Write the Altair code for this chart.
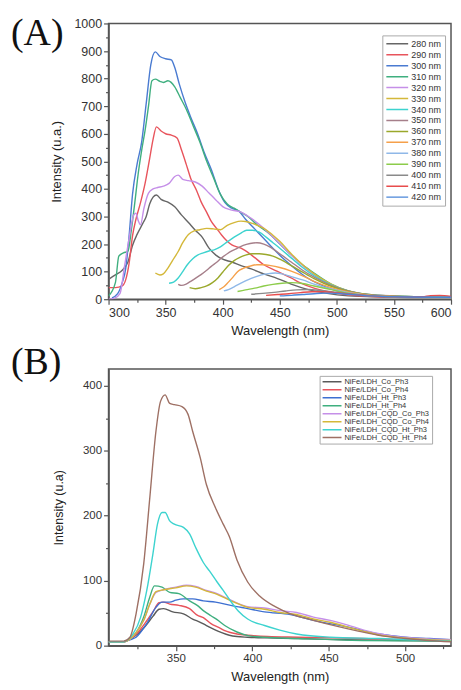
import altair as alt
import pandas as pd

# ---------------- Panel A data ----------------
a_series = ["280 nm", "290 nm", "300 nm", "310 nm", "320 nm", "330 nm", "340 nm", "350 nm",
            "360 nm", "370 nm", "380 nm", "390 nm", "400 nm", "410 nm", "420 nm"]
a_colors = ["#666666", "#E8545C", "#4A7BD1", "#3FAF7F", "#C58FE8", "#D4B83A", "#3DD3CF", "#A67F8A",
            "#9AA82B", "#F5A04A", "#8FB8E8", "#8CCC4A", "#8A8A8A", "#E84C4C", "#4A86D8"]

wl_280 = [300, 306, 312, 317, 321, 325, 330, 333, 336, 339, 342, 346, 352, 358, 364, 370, 376, 382, 388, 394, 400, 408, 416, 425, 436, 448, 460, 475, 490, 510, 540, 570, 600]
in_280 = [72, 88, 105, 135, 195, 235, 275, 300, 345, 370, 378, 362, 352, 335, 305, 278, 250, 225, 185, 160, 145, 135, 122, 110, 92, 75, 55, 35, 22, 12, 8, 6, 5]

wl_290 = [300, 306, 312, 315, 318, 321, 324, 328, 332, 336, 339, 342, 346, 350, 355, 360, 364, 368, 372, 377, 381, 386, 390, 395, 399, 404, 408, 416, 425, 436, 448, 460, 468, 480, 495, 510, 530, 560, 600]
in_290 = [42, 42, 48, 70, 130, 230, 290, 350, 420, 510, 580, 625, 610, 600, 595, 585, 540, 490, 438, 395, 354, 315, 282, 255, 233, 210, 197, 185, 161, 125, 101, 77, 59, 40, 25, 16, 10, 7, 6]

wl_300 = [303, 308, 312, 315, 318, 321, 325, 329, 333, 337, 341, 345, 350, 355, 358, 362, 367, 372, 378, 384, 390, 396, 402, 408, 414, 420, 428, 436, 445, 455, 465, 475, 490, 505, 520, 540, 570, 600]
in_300 = [5, 20, 60, 110, 230, 380, 490, 570, 710, 850, 897, 880, 872, 868, 840, 780, 715, 660, 600, 530, 470, 400, 350, 330, 320, 290, 255, 220, 180, 140, 105, 75, 45, 25, 15, 10, 8, 6]

wl_310 = [300, 306, 309, 313, 317, 320, 323, 326, 329, 332, 335, 338, 341, 345, 348, 352, 358, 363, 368, 374, 380, 386, 392, 398, 404, 410, 416, 422, 430, 440, 450, 460, 470, 480, 495, 510, 530, 560, 600]
in_310 = [12, 60, 156, 168, 174, 252, 350, 456, 540, 612, 700, 792, 798, 790, 786, 792, 770, 730, 690, 630, 570, 500, 440, 380, 345, 330, 315, 300, 270, 240, 200, 160, 125, 95, 55, 30, 15, 10, 8]

wl_320 = [300, 305, 310, 314, 318, 322, 324, 326, 328, 331, 335, 339, 343, 348, 353, 358, 361, 365, 370, 376, 382, 388, 394, 400, 407, 416, 425, 436, 448, 460, 472, 485, 500, 520, 550, 600]
in_320 = [0, 3, 20, 120, 220, 305, 312, 285, 270, 330, 385, 400, 405, 410, 420, 445, 450, 435, 430, 425, 410, 385, 360, 336, 324, 316, 293, 257, 209, 160, 115, 75, 42, 20, 10, 6]

wl_330 = [341, 345, 348, 352, 356, 361, 365, 370, 375, 380, 386, 392, 398, 404, 410, 416, 420, 426, 432, 438, 444, 450, 460, 470, 480, 495, 510, 530, 560, 600]
in_330 = [95, 88, 92, 113, 140, 173, 205, 235, 248, 252, 257, 255, 252, 268, 278, 283, 282, 275, 265, 252, 232, 210, 165, 125, 92, 55, 30, 16, 10, 8]

wl_340 = [353, 357, 361, 365, 369, 374, 378, 383, 388, 393, 398, 404, 410, 416, 421, 426, 432, 438, 444, 450, 460, 470, 480, 495, 510, 530, 560, 600]
in_340 = [58, 62, 77, 100, 125, 148, 160, 168, 175, 180, 190, 208, 225, 240, 250, 250, 243, 225, 205, 185, 150, 115, 85, 52, 30, 16, 10, 8]

wl_350 = [361, 364, 368, 372, 377, 381, 386, 390, 395, 399, 404, 408, 413, 418, 424, 430, 436, 442, 450, 460, 470, 480, 495, 510, 530, 560, 600]
in_350 = [54, 50, 55, 65, 78, 89, 105, 119, 135, 150, 165, 175, 185, 195, 202, 205, 200, 188, 165, 135, 105, 80, 50, 30, 16, 10, 7]

wl_360 = [371, 376, 381, 386, 391, 396, 400, 405, 410, 415, 420, 426, 432, 438, 444, 450, 460, 470, 480, 495, 510, 530, 560, 600]
in_360 = [42, 38, 42, 48, 60, 78, 98, 122, 140, 152, 160, 165, 165, 162, 156, 145, 122, 98, 75, 47, 28, 15, 9, 7]

wl_370 = [397, 401, 405, 409, 413, 418, 424, 430, 436, 442, 450, 460, 470, 480, 495, 510, 530, 560, 600]
in_370 = [35, 45, 62, 80, 100, 112, 120, 125, 125, 122, 115, 102, 85, 65, 42, 26, 14, 9, 7]

wl_380 = [401, 405, 410, 416, 422, 428, 434, 440, 446, 452, 460, 470, 480, 495, 510, 530, 560, 600]
in_380 = [30, 35, 45, 58, 70, 80, 88, 93, 95, 92, 82, 70, 55, 37, 24, 13, 8, 6]

wl_390 = [413, 420, 428, 436, 444, 452, 460, 470, 480, 495, 510, 530, 560, 600]
in_390 = [28, 34, 40, 48, 54, 58, 60, 57, 48, 35, 22, 12, 8, 6]

wl_400 = [425, 435, 445, 455, 465, 475, 485, 495, 510, 530, 560, 600]
in_400 = [18, 21, 25, 30, 34, 35, 32, 27, 20, 12, 8, 6]

wl_410 = [438, 448, 458, 468, 478, 488, 498, 510, 530, 560, 575, 582, 590, 600]
in_410 = [14, 17, 20, 24, 27, 27, 24, 19, 12, 8, 9, 13, 14, 10]

wl_420 = [450, 460, 470, 480, 490, 500, 510, 530, 560, 600]
in_420 = [12, 14, 17, 20, 22, 21, 18, 12, 8, 7]

a_wl = [wl_280, wl_290, wl_300, wl_310, wl_320, wl_330, wl_340, wl_350,
        wl_360, wl_370, wl_380, wl_390, wl_400, wl_410, wl_420]
a_in = [in_280, in_290, in_300, in_310, in_320, in_330, in_340, in_350,
        in_360, in_370, in_380, in_390, in_400, in_410, in_420]

# ---------------- Panel B data ----------------
b_series = ["NiFe/LDH_Co_Ph3", "NiFe/LDH_Co_Ph4", "NiFe/LDH_Ht_Ph3", "NiFe/LDH_Ht_Ph4",
            "NiFe/LDH_CQD_Co_Ph3", "NiFe/LDH_CQD_Co_Ph4", "NiFe/LDH_CQD_Ht_Ph3", "NiFe/LDH_CQD_Ht_Ph4"]
b_colors = ["#5A5A5A", "#E8545C", "#3D6FD1", "#3FAF7F", "#C58FE8", "#D4B83A", "#3DD3CF", "#9E7064"]

wl_co3 = [306, 316, 320, 325, 330, 335, 339, 342, 348, 355, 361, 366, 370, 375, 380, 385, 390, 397, 410, 430, 460, 500, 530]
in_co3 = [6, 6, 10, 18, 30, 45, 56, 57, 52, 49, 41, 36, 31, 25, 20, 16, 14, 13, 12, 11, 9, 8, 7]

wl_co4 = [306, 316, 320, 325, 330, 335, 339, 342, 346, 352, 359, 364, 368, 373, 378, 382, 390, 397, 410, 430, 472, 500, 530]
in_co4 = [6, 6, 10, 20, 35, 52, 66, 67, 64, 62, 57, 47, 43, 34, 28, 23, 18, 16, 14, 13, 11, 9, 8]

wl_ht3 = [306, 316, 320, 324, 331, 337, 341, 346, 350, 355, 361, 368, 376, 386, 397, 408, 425, 440, 462, 483, 500, 516, 530]
in_ht3 = [6, 6, 9, 13, 34, 59, 67, 67, 70, 72, 72, 69, 67, 62, 57, 52, 48, 39, 29, 18, 13, 11, 9]

wl_ht4 = [306, 316, 320, 324, 329, 333, 336, 341, 346, 352, 359, 364, 368, 373, 377, 382, 390, 398, 408, 430, 472, 530]
in_ht4 = [6, 6, 11, 20, 44, 75, 92, 90, 82, 80, 69, 62, 54, 46, 40, 31, 21, 15, 13, 11, 8, 7]

wl_cqdco3 = [306, 316, 320, 324, 329, 333, 337, 342, 350, 357, 363, 370, 377, 386, 397, 408, 418, 429, 440, 451, 462, 473, 484, 494, 510, 530]
in_cqdco3 = [6, 6, 10, 20, 39, 64, 82, 86, 90, 93, 91, 85, 80, 70, 60, 58, 54, 51, 44, 39, 32, 24, 18, 14, 11, 9]

wl_cqdco4 = [306, 316, 320, 324, 329, 333, 337, 342, 350, 357, 363, 370, 377, 386, 397, 408, 418, 429, 440, 451, 462, 473, 484, 494, 510, 530]
in_cqdco4 = [6, 6, 10, 20, 39, 64, 83, 86, 89, 92, 90, 84, 79, 69, 59, 56, 51, 48, 41, 36, 29, 22, 16, 13, 10, 8]

wl_cqdht3 = [306, 316, 318, 322, 327, 331, 335, 338, 341, 343, 346, 349, 355, 359, 363, 368, 372, 377, 381, 386, 391, 397, 408, 418, 429, 451, 483, 516, 530]
in_cqdht3 = [6, 6, 8, 18, 44, 85, 141, 187, 205, 205, 192, 187, 182, 172, 151, 128, 115, 98, 85, 68, 53, 41, 31, 24, 18, 13, 11, 8, 7]

wl_cqdht4 = [306, 316, 320, 324, 329, 333, 337, 340, 343, 346, 349, 354, 358, 361, 366, 370, 376, 381, 385, 390, 397, 405, 415, 425, 440, 455, 470, 485, 500, 515, 530]
in_cqdht4 = [7, 7, 13, 49, 126, 228, 330, 376, 386, 373, 371, 368, 356, 330, 289, 248, 212, 187, 168, 132, 98, 76, 60, 49, 39, 30, 22, 15, 11, 8, 6]

b_wl = [wl_co3, wl_co4, wl_ht3, wl_ht4, wl_cqdco3, wl_cqdco4, wl_cqdht3, wl_cqdht4]
b_in = [in_co3, in_co4, in_ht3, in_ht4, in_cqdco3, in_cqdco4, in_cqdht3, in_cqdht4]


def long_df(names, wls, ins):
    rows = []
    for k, (name, w, v) in enumerate(zip(names, wls, ins)):
        for x, y in zip(w, v):
            rows.append({"series": name, "wl": x, "I": y, "k": k})
    return pd.DataFrame(rows)


df_a = long_df(a_series, a_wl, a_in)
df_b = long_df(b_series, b_wl, b_in)

FONT = "Liberation Sans"
FRAME = "#555555"


def axis(title, values, label_every, label_size, title_size, title_pad):
    return alt.Axis(
        title=title, values=values, format="d",
        labelExpr=f"datum.value % {label_every} === 0 ? datum.label : ''",
        tickSize={"condition": {"test": f"datum.value % {label_every} === 0", "value": 5}, "value": 3},
        tickColor=FRAME, tickWidth=1.2, domainColor=FRAME, domainWidth=1.5,
        labelFont=FONT, labelFontSize=label_size, labelColor="#333333", labelPadding=2,
        titleFont=FONT, titleFontSize=title_size, titleFontWeight="normal", titleColor="#222222",
        titlePadding=title_pad, grid=False,
    )


# ---------------- Panel A chart ----------------
lines_a = alt.Chart(df_a).mark_line(strokeWidth=1.4, clip=True, interpolate="monotone").encode(
    x=alt.X("wl:Q", scale=alt.Scale(domain=[300, 600], nice=False, zero=False),
            axis=axis("Wavelength (nm)", list(range(300, 601, 25)), 50, 12.5, 13, 6)),
    y=alt.Y("I:Q", scale=alt.Scale(domain=[0, 1000], nice=False),
            axis=axis("Intensity (u.a.)", list(range(0, 1001, 50)), 100, 12.5, 13, 10)),
    color=alt.Color("series:N", scale=alt.Scale(domain=a_series, range=a_colors), sort=a_series,
                    legend=alt.Legend(title=None, orient="none", legendX=275, legendY=12,
                                      symbolType="stroke", symbolSize=480, symbolStrokeWidth=1.5,
                                      labelFont=FONT, labelFontSize=9, labelColor="#333333",
                                      labelOffset=2, clipHeight=10.9, rowPadding=0,
                                      strokeColor="#AAAAAA", fillColor="white", padding=3)),
    detail="series:N",
)
label_a = alt.Chart(pd.DataFrame({"t": ["(A)"]})).mark_text(
    font="Liberation Serif", fontSize=38, align="left", baseline="top", color="#111111"
).encode(text="t:N", x=alt.value(-98), y=alt.value(-8))

panel_a = alt.layer(lines_a, label_a).properties(width=344, height=277)

# ---------------- Panel B chart ----------------
lines_b = alt.Chart(df_b).mark_line(strokeWidth=1.4, clip=True, interpolate="monotone").encode(
    x=alt.X("wl:Q", scale=alt.Scale(domain=[306, 530], nice=False, zero=False),
            axis=axis("Wavelength (nm)", list(range(325, 526, 25)), 50, 11.5, 13, 6)),
    y=alt.Y("I:Q", scale=alt.Scale(domain=[0, 426], nice=False),
            axis=axis("Intensity (u.a)", list(range(0, 401, 50)), 100, 11.5, 12.5, 17)),
    color=alt.Color("series:N", scale=alt.Scale(domain=b_series, range=b_colors), sort=b_series,
                    legend=alt.Legend(title=None, orient="none", legendX=212, legendY=7,
                                      symbolType="stroke", symbolSize=361, symbolStrokeWidth=1.5,
                                      labelFont=FONT, labelFontSize=7.5, labelColor="#333333",
                                      labelOffset=2, clipHeight=8.0, rowPadding=0,
                                      strokeColor="#AAAAAA", fillColor="white", padding=2)),
    detail="series:N",
)
label_b = alt.Chart(pd.DataFrame({"t": ["(B)"]})).mark_text(
    font="Liberation Serif", fontSize=38, align="left", baseline="top", color="#111111"
).encode(text="t:N", x=alt.value(-98), y=alt.value(-25))

panel_b = alt.layer(lines_b, label_b).properties(width=344, height=278)

chart = alt.vconcat(panel_a, panel_b, spacing=4).resolve_scale(color="independent").configure(
    padding={"left": 2, "top": 5, "right": 0, "bottom": 0}
).configure_view(stroke=FRAME, strokeWidth=1.5)

chart.save("out.html", embed_options={"renderer": "svg", "actions": False})
